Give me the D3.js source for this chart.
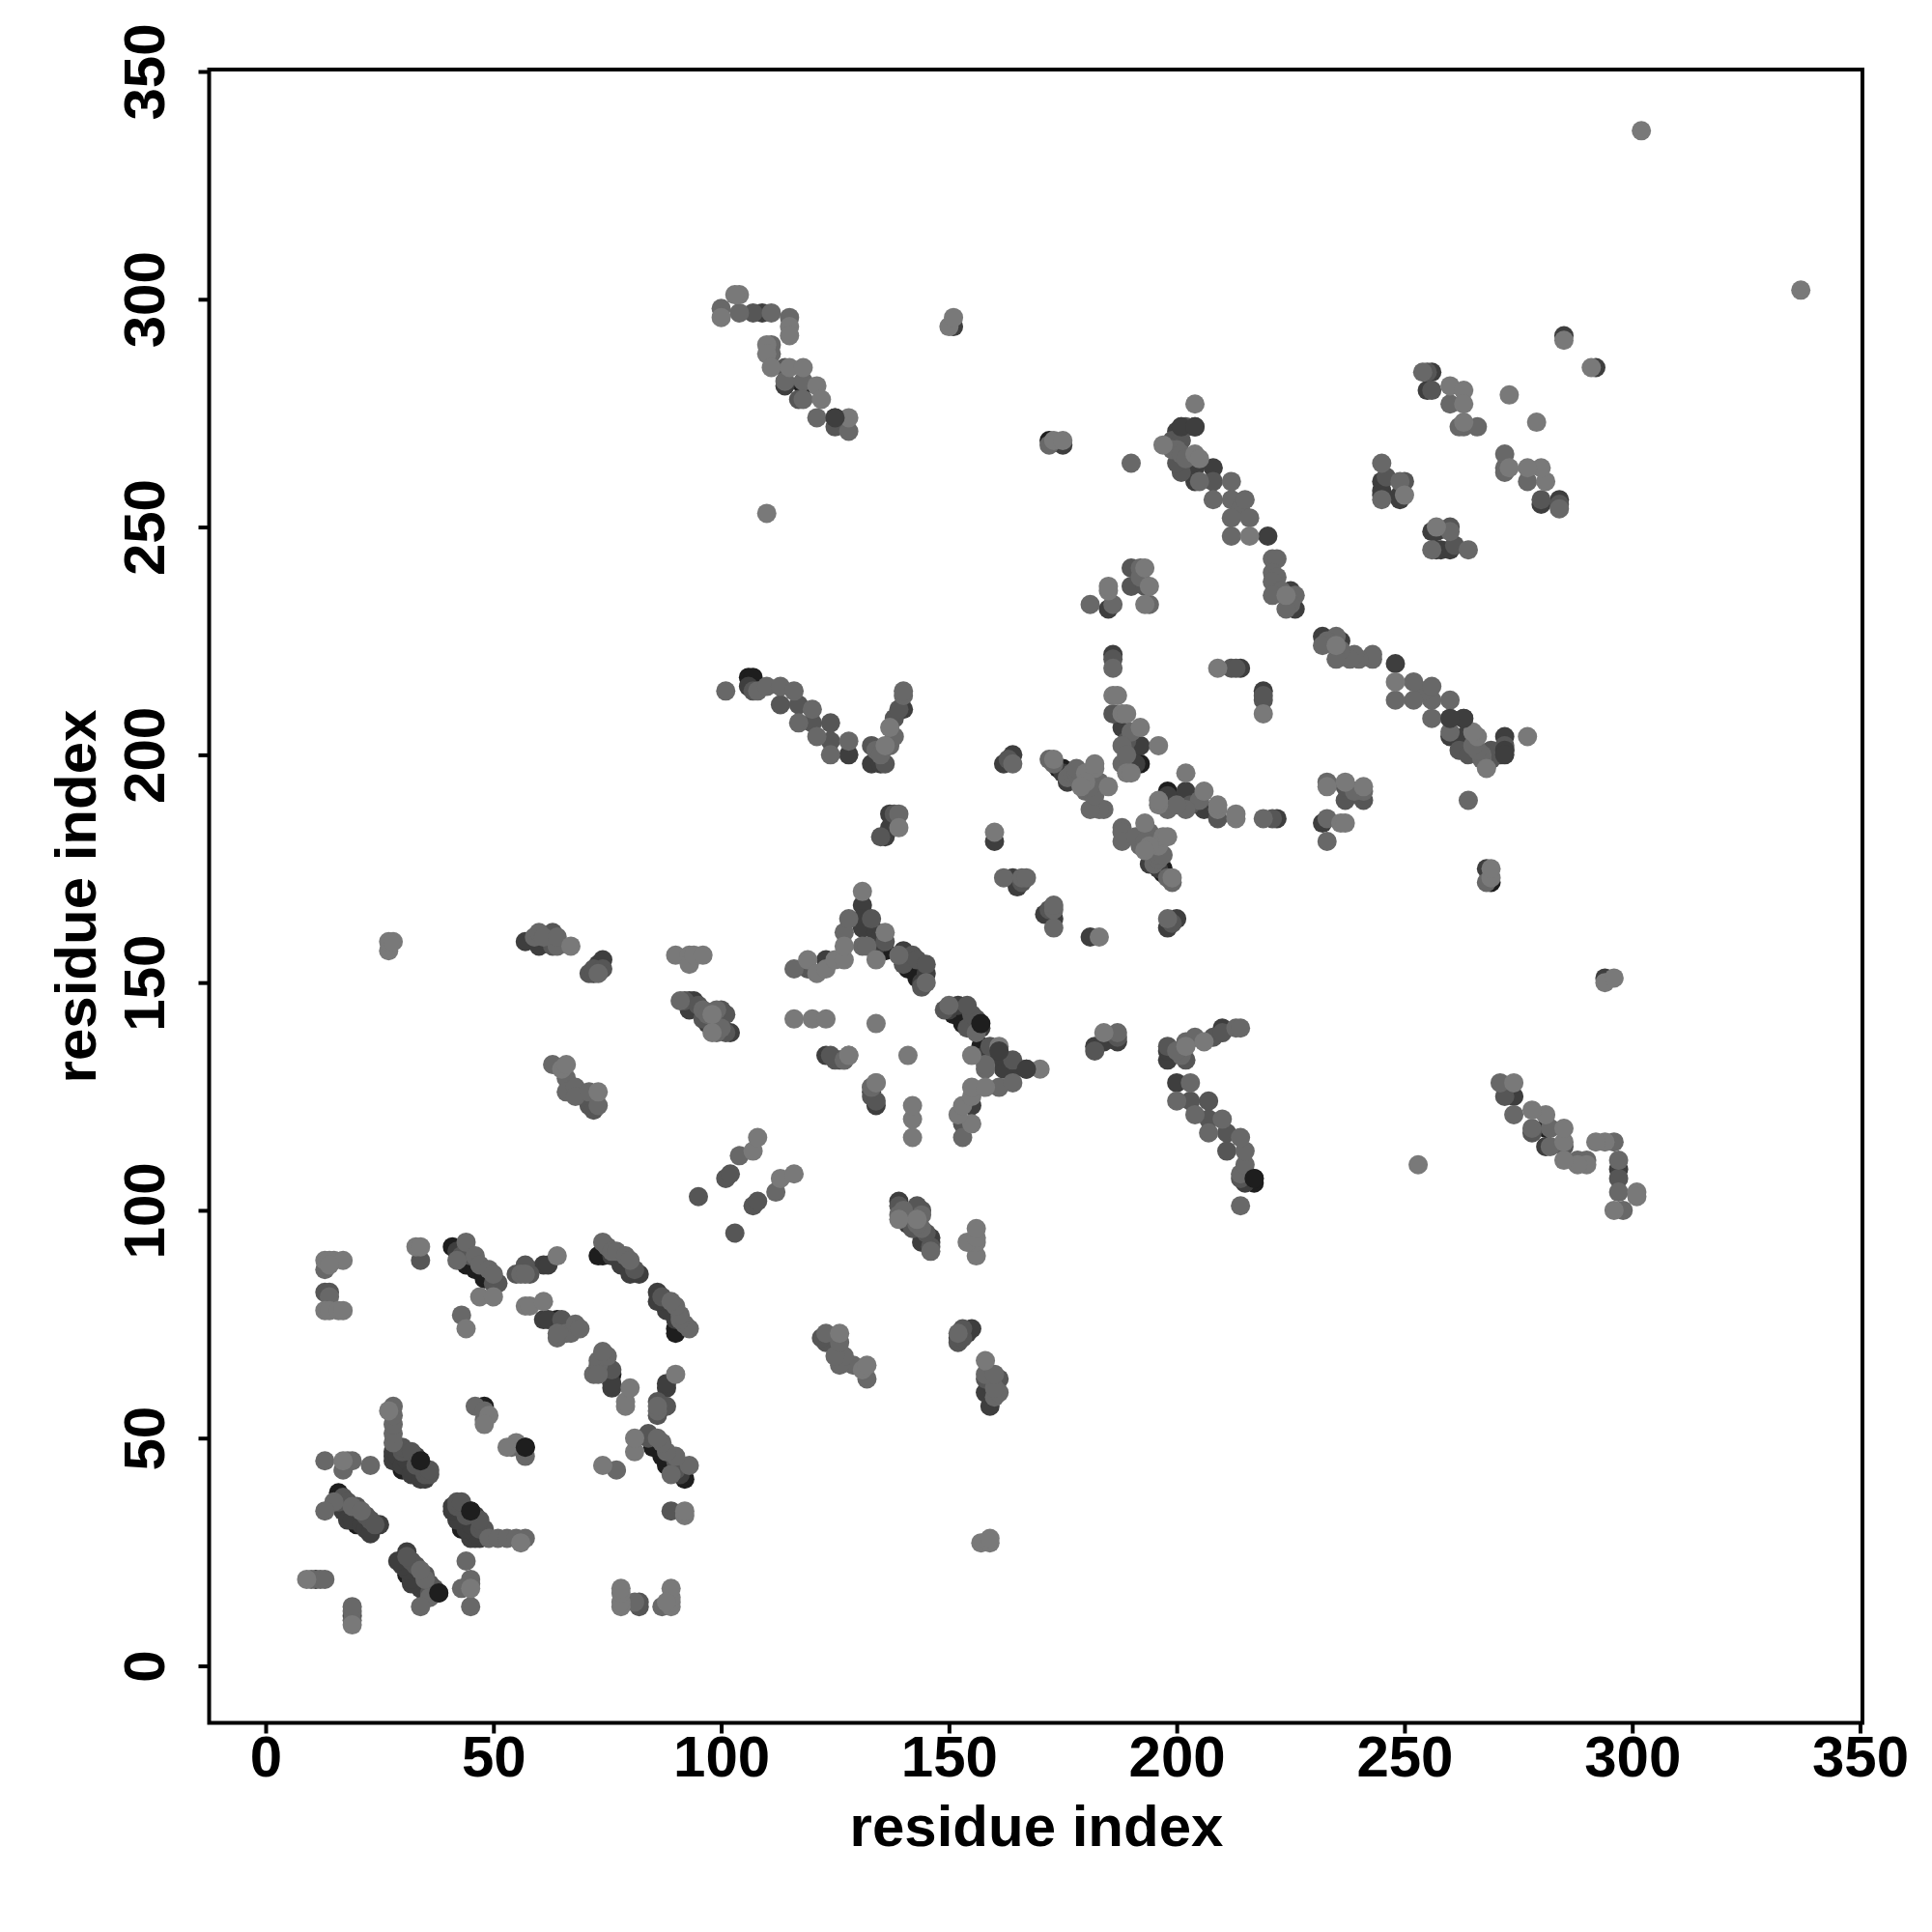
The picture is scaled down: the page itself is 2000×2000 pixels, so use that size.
<!DOCTYPE html>
<html><head><meta charset="utf-8"><style>html,body{margin:0;background:#fff}svg{display:block}</style>
<script src="https://cdn.jsdelivr.net/npm/d3@7"></script></head><body><svg id="c" width="2000" height="2000"></svg>
<script>
// contacts: [residue i, residue j, strength 0 (faint) .. 4 (strong)], plotted at (i,j) and (j,i)
const term=[[19,9,0],[19,10,1],[19,11,3],[19,12,1],[19,13,1]];
const strand1=[[15,36,1],[16,38,4],[16,36,2],[17,34,3],[17,37,2],[18,36,2],[18,33,3],[18,32,3],[19,35,1],[19,32,3],[20,35,2],[20,31,4],[21,34,1],[21,31,3],[22,30,3],[22,33,2],[23,29,3],[23,32,2],[24,31,2],[25,31,3]];
const iso1=[[13,34,1],[13,45,1],[17,43,1],[17,45,0],[18,45,1],[19,45,1],[23,44,1]];
const group2=[[13,89,0],[14,89,0],[15,89,0],[17,89,0],[13,87,1],[14,88,0],[13,82,2],[14,82,2],[14,81,1],[13,78,0],[14,78,0],[16,78,0],[17,78,0]];
const strand3=[[28,47,3],[28,49,1],[28,46,3],[28,51,1],[28,53,1],[28,55,1],[27,56,0],[28,57,1],[28,45,3],[29,46,3],[30,44,3],[30,43,4],[30,47,2],[30,48,2],[31,47,3],[31,45,3],[32,42,3],[32,47,2],[33,46,3],[33,44,2],[34,45,4],[34,41,3],[35,41,3],[35,42,2],[36,42,2],[36,43,2]];
const strand5=[[41,92,4],[42,91,3],[42,89,1],[43,90,2],[44,93,1],[44,88,4],[45,90,2],[46,87,4],[46,90,1],[47,88,1],[48,85,4],[49,87,1],[50,86,1],[50,84,2],[51,84,2],[47,81,0],[50,81,0],[43,77,1],[44,74,0]];
const pair6=[[33,92,0],[34,92,0],[34,89,2]];
const group7=[[55,86,2],[56,86,1],[57,88,2],[57,86,1],[58,86,2],[61,88,3],[62,88,3],[64,90,0]];
const group8=[[57,79,0],[58,79,0],[61,80,0],[61,76,3],[62,76,3],[64,76,4],[64,72,1],[65,76,2],[65,75,3],[66,73,1],[67,73,1],[68,75,1],[69,74,1],[64,73,1]];
const strand9=[[74,90,4],[73,90,4],[75,92,1],[74,93,1],[76,90,3],[76,91,1],[77,91,1],[78,88,3],[79,90,1],[80,87,3],[80,86,3],[80,89,1],[81,87,2],[82,86,3]];
const group10=[[46,57,1],[48,57,4],[48,56,1],[49,55,0],[48,54,1],[48,53,0]];
const group11=[[57,159,3],[59,160,1],[60,161,1],[60,158,3],[61,160,1],[62,159,3],[63,161,2],[64,158,1],[64,160,1],[63,158,2],[67,158,0],[71,152,2],[72,153,2],[73,154,3],[72,152,3],[74,155,3],[74,153,2],[73,152,1]];
const group12=[[27,157,0],[27,159,0],[28,159,0]];
const group13=[[63,132,1],[65,131,0],[66,132,0],[66,129,1],[66,126,1],[68,127,1],[68,125,1],[71,126,1],[73,126,0],[71,123,2],[72,122,2],[73,123,1]];
const group14=[[90,156,0],[93,156,0],[93,154,0],[94,156,0],[96,156,0]];
const strand15=[[91,146,1],[92,146,2],[93,146,3],[94,146,3],[93,144,3],[95,145,2],[96,144,1],[96,142,2],[97,143,1],[98,143,0],[99,144,1],[100,144,2],[101,143,2],[97,141,3],[98,139,0],[99,139,1],[100,140,1],[101,139,2],[102,139,3]];
const shortDiag=[[95,103,2],[101,107,2],[102,108,2],[104,112,1],[107,113,0],[108,116,0]];
const strand16=[[101,214,1],[106,217,4],[107,217,4],[106,215,3],[107,214,2],[108,214,1],[110,215,1],[113,215,1],[116,214,1],[113,211,2],[117,211,2],[120,210,1],[117,207,1],[120,207,2],[124,207,2],[121,204,1],[124,203,2],[128,203,1],[124,200,1],[128,200,3]];
const strand17=[[133,202,2],[134,201,1],[133,198,3],[135,198,3],[136,198,2],[135,200,1],[136,202,0],[137,202,1],[138,204,1],[137,206,0],[138,208,2],[139,210,2],[140,210,3],[140,213,1],[140,214,1]];
const group18=[[135,182,2],[136,182,3],[137,184,3],[139,184,0],[137,187,3],[138,187,2],[139,187,1]];
const strand19=[[104,301,0],[103,301,0],[100,298,1],[100,296,0],[104,297,1],[107,297,2],[109,297,3],[111,297,1],[115,296,1],[115,294,0],[115,292,0],[110,290,0],[111,290,1],[110,288,0],[111,288,1],[111,285,0],[114,285,2],[115,285,0],[118,285,0],[114,282,1],[114,281,3],[118,282,1],[118,281,4],[121,281,0],[117,278,2],[118,278,1],[122,278,0],[121,274,1],[125,274,3],[128,274,0],[125,272,2],[128,271,1]];
const group20=[[151,294,3],[150,294,0],[151,296,0],[110,253,0],[204,277,0],[190,264,1],[302,337,0]];
const group21=[[172,268,1],[172,269,4],[173,269,0],[175,268,3],[175,269,0]];
const strand22=[[197,268,0],[199,269,2],[199,267,1],[200,267,1],[200,271,3],[201,272,3],[202,272,2],[204,272,3],[201,269,2],[201,266,1],[201,262,2],[200,264,2],[202,265,1],[204,263,3],[204,260,3],[204,266,0],[205,265,0],[205,260,1],[208,263,3],[208,260,2],[208,256,1],[212,260,1],[212,256,1],[214,254,1],[215,256,1],[212,252,1],[216,252,1],[212,248,1],[216,248,0],[220,248,3],[221,243,1],[222,243,1],[221,240,1],[222,239,1],[221,238,1],[223,236,1],[221,235,1],[224,235,0],[226,235,1],[225,236,3],[225,233,1],[224,232,1],[226,232,3]];
const group23=[[245,264,1],[245,260,3],[245,258,3],[245,257,3],[245,256,1],[246,261,2],[249,260,1],[250,260,2],[249,257,3],[249,256,3],[250,257,0]];
const strand24=[[254,284,1],[256,284,3],[255,284,2],[256,280,2],[255,280,3],[260,281,0],[260,277,1],[263,280,0],[263,277,0],[263,273,0],[263,272,1],[262,272,1],[266,272,1],[273,279,0],[285,292,3],[285,291,0]];
const group25=[[181,233,1],[185,232,3],[186,233,1],[185,236,0],[185,237,0],[190,237,2],[190,241,2],[193,233,0],[194,233,1],[194,237,0],[193,241,0],[192,241,1],[193,237,2],[192,239,1]];
const group26=[[186,222,3],[186,221,2],[186,219,1],[209,219,0],[212,219,2],[213,219,2],[214,219,3]];
const cluster27=[[186,213,0],[187,213,0],[186,209,2],[188,209,0],[189,209,0],[188,206,3],[190,205,1],[192,206,0],[188,202,1],[189,203,2],[192,202,3],[191,202,4],[196,202,0],[192,198,4],[191,198,3],[188,198,1],[189,196,0],[190,196,0],[189,200,1]];
const cluster28=[[172,199,1],[173,199,0],[173,198,1],[174,197,4],[175,197,4],[175,196,3],[176,195,1],[176,194,3],[177,196,1],[178,196,1],[178,197,1],[179,195,2],[180,196,0],[180,195,2],[180,192,1],[182,197,0],[180,194,0],[181,192,1],[179,193,0],[183,194,1],[185,193,0],[184,188,1],[183,188,1],[181,188,1],[182,198,0],[182,191,1],[181,193,1]];
const group29=[[162,198,3],[164,200,3],[164,198,1],[163,199,2],[160,181,3],[160,183,0],[162,173,1],[164,173,3],[165,171,3],[166,172,2],[166,173,1],[167,173,1]];
const strand30=[[131,170,0],[131,167,3],[131,164,3],[131,162,3],[131,158,1],[132,158,1],[133,164,2],[133,162,4],[134,161,3],[134,158,3],[135,160,3],[136,161,0],[136,159,2],[136,157,4],[134,155,0],[139,156,1],[140,157,3],[140,154,2],[141,153,4],[142,156,2],[143,155,2],[143,151,4],[144,150,3],[145,154,2],[145,152,3],[145,150,1],[144,149,2]];
const strand31=[[116,153,1],[119,153,2],[119,155,0],[121,152,0],[123,155,3],[123,153,0],[125,155,0],[127,155,0],[127,158,0],[127,161,1],[128,164,1]];
const group33=[[116,142,0],[120,142,0],[123,142,0],[134,141,0],[123,134,3],[126,133,3],[127,133,2],[128,134,1],[133,127,1],[134,128,0],[133,125,2],[134,124,2]];
const contactGroups=[term,strand1,iso1,group2,strand3,strand5,pair6,group7,group8,strand9,group10,group11,group12,group13,group14,strand15,shortDiag,strand16,strand17,group18,strand19,group20,group21,strand22,group23,strand24,group25,group26,cluster27,cluster28,group29,strand30,strand31,group33];
// strong contacts that lie over their neighbours, as [x, y, strength]
const topPoints=[[38,16,4],[217,107,4],[167,131,3],[157,141,4],[161,135,3],[45,34,4],[34,45,4],[57,48,4],[125,274,3],[201,272,3],[204,272,3],[272,201,3],[272,200,3],[263,208,3],[260,208,3]];
const xTicks=[0,50,100,150,200,250,300,350], yTicks=[0,50,100,150,200,250,300,350];
const xTitle="residue index", yTitle="residue index";

const svg=d3.select("#c");
const x=d3.scaleLinear().domain([0,350]).range([275,1925.5]);
const y=d3.scaleLinear().domain([0,350]).range([1724.5,74]);
const grey=d3.scaleLinear().domain([0,1,2,3,4]).range(["#797979","#686868","#565656","#3e3e3e","#1e1e1e"]);
const points=contactGroups.flat().flatMap(d=>[{a:d[0],b:d[1],s:d[2]},{a:d[1],b:d[0],s:d[2]}]);
points.sort((p,q)=>d3.descending(p.s,q.s));
const drawn=points.concat(topPoints.map(d=>({a:d[0],b:d[1],s:d[2]})));
svg.append("g").selectAll("circle").data(drawn).join("circle")
  .attr("cx",d=>x(d.a)).attr("cy",d=>y(d.b)).attr("r",10).attr("fill",d=>grey(d.s));
svg.append("rect").attr("x",216.5).attr("y",72).attr("width",1711.5).attr("height",1711.5)
  .attr("fill","none").attr("stroke","#000").attr("stroke-width",4);
const font='"Liberation Sans",Arial,sans-serif';
const gx=svg.append("g").attr("transform","translate(0,1783.5)").call(d3.axisBottom(x).tickValues(xTicks).tickFormat(d3.format("d")).tickSize(11).tickPadding(2));
const gy=svg.append("g").attr("transform","translate(216.5,0)").call(d3.axisLeft(y).tickValues(yTicks).tickFormat(d3.format("d")).tickSize(11).tickPadding(0));
[gx,gy].forEach(g=>{g.select(".domain").remove();g.selectAll("line").attr("stroke","#000").attr("stroke-width",4);
  g.selectAll("text").attr("font-family",font).attr("font-weight","bold").attr("font-size",60).attr("fill","#000");});
gy.selectAll("text").attr("x",null).attr("dy",null).attr("text-anchor","middle")
  .attr("transform","translate(-47,0) rotate(-90)");
svg.append("text").attr("x",1073).attr("y",1911).attr("text-anchor","middle").attr("font-family",font).attr("font-weight","bold").attr("font-size",60).text(xTitle);
svg.append("text").attr("transform","translate(99,928) rotate(-90)").attr("text-anchor","middle").attr("font-family",font).attr("font-weight","bold").attr("font-size",60).text(yTitle);
</script></body></html>
